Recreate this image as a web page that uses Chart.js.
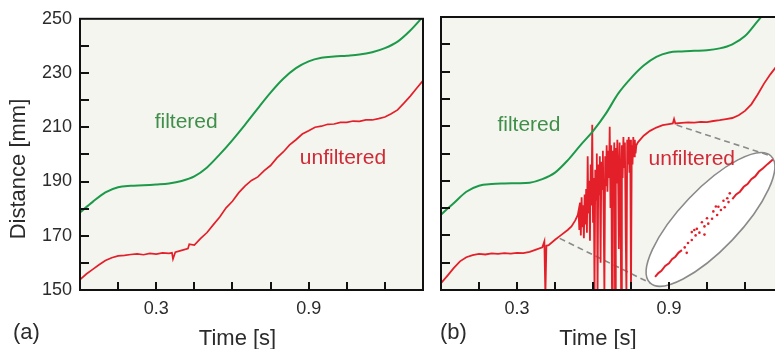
<!DOCTYPE html>
<html>
<head>
<meta charset="utf-8">
<script src="https://cdn.jsdelivr.net/npm/chart.js@4.4.0/dist/chart.umd.min.js"></script>
<style>
  html, body { margin: 0; padding: 0; background: #fff; overflow: hidden; }
  #wrap { position: relative; width: 775px; height: 349px; overflow: hidden; }
  canvas { position: absolute; top: 0; }
  #panelA { left: 0; }
  #panelB { left: 432px; }
</style>
</head>
<body>
<div id="wrap">
  <canvas id="panelA" width="432" height="349"></canvas>
  <canvas id="panelB" width="360" height="349"></canvas>
</div>
<script>
// ---- axis ticks ----
const xTickValues = [0, 0.15, 0.3, 0.45, 0.6, 0.75, 0.9, 1.05, 1.2, 1.35];
const xLabelled = [0.3, 0.9];
const yTickValues = [150, 160, 170, 180, 190, 200, 210, 220, 230, 240, 250];
const yLabelled = [150, 170, 190, 210, 230, 250];

// ---- panel (a) ----
const timeA = [0, 0.05, 0.1, 0.15, 0.2, 0.25, 0.3, 0.35, 0.4, 0.45, 0.5, 0.55, 0.6, 0.65,
  0.7, 0.75, 0.8, 0.85, 0.9, 0.95, 1.0, 1.05, 1.1, 1.15, 1.2, 1.25, 1.3, 1.35];
const filteredA = [178.6, 182.5, 186.0, 187.9, 188.4, 188.6, 188.9, 189.3, 190.2, 191.9, 195.2, 200.0, 205.3, 211.0,
  217.0, 222.8, 227.9, 231.8, 234.3, 235.6, 236.1, 236.4, 236.8, 237.7, 239.2, 241.6, 245.7, 250.8];

const timeRedA = [0, 0.025, 0.05, 0.075, 0.1, 0.125, 0.15, 0.175, 0.2, 0.225,
  0.25, 0.275, 0.3, 0.325, 0.35, 0.362, 0.366, 0.375, 0.4, 0.425,
  0.43, 0.45, 0.475, 0.5, 0.525, 0.55, 0.575, 0.6, 0.625, 0.65,
  0.675, 0.7, 0.725, 0.75, 0.775, 0.8, 0.825, 0.85, 0.875, 0.9,
  0.925, 0.95, 0.975, 1.0, 1.025, 1.05, 1.075, 1.1, 1.125, 1.15,
  1.175, 1.2, 1.225, 1.25, 1.275, 1.3, 1.325, 1.35];
const unfilteredA = [153.8, 155.9, 157.6, 159.3, 160.9, 161.9, 162.6, 162.8, 163.1, 163.3,
  163.0, 163.5, 163.2, 163.7, 163.5, 163.7, 161.4, 163.9, 164.6, 165.3,
  166.9, 166.6, 169.0, 171.2, 174.1, 176.9, 180.3, 182.7, 185.9, 188.4,
  190.4, 191.7, 194.0, 195.9, 198.7, 200.9, 203.5, 205.4, 207.5, 208.7,
  210.0, 210.4, 211.1, 211.2, 211.8, 211.8, 212.3, 212.2, 212.7, 212.7,
  213.2, 213.8, 215.0, 216.4, 218.9, 221.5, 224.4, 227.2];

// ---- panel (b) ----
const filteredB = [177.6, 181.8, 186.0, 188.2, 188.8, 189.0, 189.1, 189.3, 190.6, 193.0, 197.5, 203.0, 208.2, 214.5,
  222.0, 227.6, 232.2, 235.4, 237.0, 237.4, 237.6, 237.8, 238.5, 240.0, 243.0, 248.5, 254.0, 259.5];

const timeRedB1 = [0, 0.025, 0.05, 0.075, 0.1, 0.125, 0.15, 0.175, 0.2, 0.225,
  0.25, 0.275, 0.3, 0.325, 0.35, 0.375, 0.4, 0.408, 0.412, 0.416,
  0.425, 0.45, 0.475, 0.5, 0.515, 0.53, 0.54];
const unfilteredB1 = [152.5, 155.2, 158.0, 160.5, 162.0, 162.8, 163.2, 163.0, 163.4, 163.2,
  163.5, 163.3, 163.6, 163.5, 164.0, 164.8, 165.6, 167.8, 148.0, 166.2,
  166.4, 168.4, 170.2, 172.0, 173.3, 175.5, 177.5];

// the noisy stretch
const timeNoiseB = [0.543, 0.546, 0.549, 0.552, 0.555, 0.558, 0.561, 0.564, 0.567, 0.57,
  0.573, 0.576, 0.579, 0.582, 0.585, 0.588, 0.591, 0.594, 0.597, 0.6,
  0.603, 0.606, 0.609, 0.612, 0.615, 0.618, 0.621, 0.624, 0.627, 0.63,
  0.633, 0.636, 0.639, 0.642, 0.645, 0.648, 0.651, 0.654, 0.657, 0.66,
  0.663, 0.666, 0.669, 0.672, 0.675, 0.678, 0.681, 0.684, 0.687, 0.69,
  0.693, 0.696, 0.699, 0.702, 0.705, 0.708, 0.711, 0.714, 0.717, 0.72,
  0.723, 0.726, 0.729, 0.732, 0.735, 0.738, 0.741, 0.744, 0.747, 0.75,
  0.753, 0.756, 0.759, 0.762, 0.765, 0.768, 0.771];
const noiseB = [179, 172, 182, 170, 184, 173, 181, 169, 185, 174,
  187, 171, 199, 178, 190, 168, 196, 181, 210.5, 175,
  191, 148, 194, 183, 200, 148, 196, 185, 199, 160,
  197, 187, 201, 178, 148, 199, 188, 203, 186, 201,
  191, 209.8, 180, 203, 148, 201, 190, 204, 148, 202,
  189, 205, 193, 165, 204, 194, 148, 203, 191, 206,
  195, 204, 172, 148, 205, 196, 206, 193, 205, 148,
  203, 196, 206, 199, 205, 200, 203];

const timeRedB2 = [0.778, 0.8, 0.825, 0.85, 0.875, 0.9, 0.915, 0.92, 0.925, 0.95,
  0.975, 1.0, 1.025, 1.05, 1.075, 1.1, 1.125, 1.15, 1.175, 1.2,
  1.225, 1.25, 1.275, 1.3, 1.325, 1.35];
const unfilteredB2 = [204.2, 206.5, 208.3, 209.5, 210.4, 210.8, 211.0, 212.6, 211.0, 211.2,
  211.4, 211.3, 211.6, 211.5, 211.9, 212.2, 212.6, 213.0, 214.0, 215.6,
  218.0, 221.6, 225.6, 229.0, 232.0, 235.0];

// magnified inset inside the ellipse
const insetLowTime = [0.845, 0.858, 0.87, 0.885, 0.9, 0.912, 0.925, 0.938, 0.951];
const insetLowDist = [154.8, 156.2, 157.0, 158.8, 159.8, 161.3, 162.2, 163.7, 164.6];
const insetHighTime = [1.15, 1.165, 1.18, 1.195, 1.21, 1.225, 1.24, 1.255, 1.27, 1.29, 1.31];
const insetHighDist = [183.3, 185.0, 186.0, 187.8, 188.8, 190.6, 191.6, 193.4, 194.5, 196.2, 197.8];
const insetDotTime = [0.962, 0.975, 0.99, 1.005, 1.02, 1.04, 1.055, 1.07, 1.09, 1.105, 1.12, 1.135,
  0.99, 1.01, 1.03, 1.05, 1.075, 1.095, 1.115, 1.13, 0.97, 1.04, 1.0, 1.085, 1.14];
const insetDotDist = [165.6, 167.2, 168.3, 170.0, 171.0, 173.3, 174.3, 176.1, 177.5, 179.3, 180.3, 182.2,
  171.2, 172.4, 174.8, 176.3, 178.8, 180.5, 182.7, 183.6, 163.6, 170.3, 172.0, 180.6, 185.4];

// zoom guide: ellipse tips and the dashed connectors
const ellipseTips = [[0.825, 152.6], [1.3025, 199.1]];
const dashLow = [[0.4685, 168.9], [0.825, 152.6]];
const dashHigh = [[0.93, 210.4], [1.3025, 199.1]];

const GREEN = '#1c9a4a';
const RED = '#e3202a';
const FONT = '"Liberation Sans", Arial, Helvetica, sans-serif';

Chart.defaults.font.family = FONT;
Chart.defaults.font.size = 18;
Chart.defaults.color = '#2b2b2b';

function pts(xs, ys) {
  return xs.map((x, i) => ({ x: x, y: ys[i] }));
}
function pairs(list) {
  return list.map(p => ({ x: p[0], y: p[1] }));
}

// background, frame, inward ticks, texts
const frame = {
  id: 'frame',
  beforeDraw(chart) {
    const { ctx, chartArea: a } = chart;
    ctx.save();
    ctx.fillStyle = '#f5f5f0';
    ctx.fillRect(a.left, a.top, a.width, a.height);
    ctx.restore();
  },
  beforeDatasetsDraw(chart, args, opts) {
    if (!opts.ellipse) return;
    const ctx = chart.ctx;
    const sx = chart.scales.x, sy = chart.scales.y;
    const p = opts.ellipse.map(v => [sx.getPixelForValue(v[0]), sy.getPixelForValue(v[1])]);
    const cx = (p[0][0] + p[1][0]) / 2, cy = (p[0][1] + p[1][1]) / 2;
    const r = Math.hypot(p[1][0] - p[0][0], p[1][1] - p[0][1]) / 2;
    const ang = Math.atan2(p[1][1] - p[0][1], p[1][0] - p[0][0]);
    ctx.save();
    ctx.beginPath();
    ctx.ellipse(cx, cy, r, 30, ang, 0, Math.PI * 2);
    ctx.fillStyle = '#ffffff';
    ctx.fill();
    ctx.lineWidth = 1.6;
    ctx.strokeStyle = '#8a8a8a';
    ctx.stroke();
    ctx.restore();
  },
  afterDraw(chart, args, opts) {
    const { ctx, chartArea: a } = chart;
    const sx = chart.scales.x, sy = chart.scales.y;
    ctx.save();
    ctx.strokeStyle = '#111';
    ctx.lineWidth = 2;
    ctx.strokeRect(a.left, a.top, a.width, a.height);
    ctx.beginPath();
    sx.ticks.forEach(t => {
      if (t.value <= sx.min || t.value >= sx.max) return;
      const px = Math.round(sx.getPixelForValue(t.value));
      ctx.moveTo(px, a.bottom);
      ctx.lineTo(px, a.bottom - 8);
    });
    sy.ticks.forEach(t => {
      if (t.value <= sy.min || t.value >= sy.max) return;
      const py = Math.round(sy.getPixelForValue(t.value));
      ctx.moveTo(a.left, py);
      ctx.lineTo(a.left + 9, py);
    });
    ctx.stroke();

    ctx.font = '21px ' + FONT;
    ctx.textAlign = 'center';
    ctx.textBaseline = 'alphabetic';
    opts.notes.forEach(n => {
      ctx.fillStyle = n.color;
      ctx.fillText(n.text, sx.getPixelForValue(n.x), sy.getPixelForValue(n.y));
    });

    ctx.fillStyle = '#2b2b2b';
    ctx.font = '22px ' + FONT;
    ctx.fillText('Time [s]', (a.left + a.right) / 2 - 14, chart.height - 4);
    ctx.textAlign = 'left';
    ctx.fillText(opts.label, opts.labelX, chart.height - 10);
    if (opts.yTitle) {
      ctx.translate(25, 169);
      ctx.rotate(-Math.PI / 2);
      ctx.textAlign = 'center';
      ctx.fillText(opts.yTitle, 0, 0);
    }
    ctx.restore();
  }
};

function scalesFor(yWidth, showYLabels) {
  return {
    x: {
      type: 'linear',
      min: 0,
      max: 1.35,
      grid: { display: false, drawTicks: false },
      border: { display: false },
      afterBuildTicks: s => { s.ticks = xTickValues.map(v => ({ value: v })); },
      afterFit: s => { s.height = 59; },
      ticks: {
        autoSkip: false,
        maxRotation: 0,
        padding: 8,
        color: '#2b2b2b',
        callback: v => xLabelled.some(l => Math.abs(l - v) < 1e-6) ? v.toFixed(1) : ''
      }
    },
    y: {
      type: 'linear',
      min: 150,
      max: 250,
      grid: { display: false, drawTicks: false },
      border: { display: false },
      afterBuildTicks: s => { s.ticks = yTickValues.map(v => ({ value: v })); },
      afterFit: s => { s.width = yWidth; },
      ticks: {
        display: showYLabels,
        autoSkip: false,
        padding: 8,
        color: '#2b2b2b',
        callback: v => yLabelled.includes(v) ? String(v) : ''
      }
    }
  };
}

const common = {
  responsive: false,
  animation: false,
  devicePixelRatio: 1,
  elements: { point: { radius: 0 } },
  layout: { padding: { top: 17, right: 9, left: 0, bottom: 0 } }
};

new Chart(document.getElementById('panelA').getContext('2d'), {
  type: 'line',
  data: {
    datasets: [
      { label: 'filtered', data: pts(timeA, filteredA), borderColor: GREEN, borderWidth: 2, cubicInterpolationMode: 'monotone' },
      { label: 'unfiltered', data: pts(timeRedA, unfilteredA), borderColor: RED, borderWidth: 1.7, tension: 0 }
    ]
  },
  options: Object.assign({}, common, {
    scales: scalesFor(80, true),
    plugins: {
      legend: { display: false },
      tooltip: { enabled: false },
      frame: {
        label: '(a)', labelX: 13, yTitle: 'Distance [mm]',
        notes: [
          { text: 'filtered', x: 0.418, y: 209.6, color: '#3f8f4a' },
          { text: 'unfiltered', x: 1.035, y: 196.5, color: '#cf2a36' }
        ]
      }
    }
  }),
  plugins: [frame]
});

new Chart(document.getElementById('panelB').getContext('2d'), {
  type: 'line',
  data: {
    datasets: [
      { label: 'inset dots', data: pts(insetDotTime, insetDotDist), showLine: false, pointRadius: 1.3,
        pointBackgroundColor: RED, pointBorderWidth: 0 },
      { label: 'inset low', data: pts(insetLowTime, insetLowDist), borderColor: RED, borderWidth: 2 },
      { label: 'inset high', data: pts(insetHighTime, insetHighDist), borderColor: RED, borderWidth: 2 },
      { label: 'filtered', data: pts(timeA, filteredB), borderColor: GREEN, borderWidth: 2, cubicInterpolationMode: 'monotone' },
      { label: 'unfiltered',
        data: pts(timeRedB1, unfilteredB1).concat(pts(timeNoiseB, noiseB), pts(timeRedB2, unfilteredB2)),
        borderColor: RED, borderWidth: 1.8, tension: 0 },
      { label: 'guide low', data: pairs(dashLow), borderColor: '#8a8a8a', borderWidth: 1.6, borderDash: [6, 4] },
      { label: 'guide high', data: pairs(dashHigh), borderColor: '#8a8a8a', borderWidth: 1.6, borderDash: [6, 4] }
    ]
  },
  options: Object.assign({}, common, {
    scales: scalesFor(9, false),
    plugins: {
      legend: { display: false },
      tooltip: { enabled: false },
      frame: {
        label: '(b)', labelX: 8, ellipse: ellipseTips,
        notes: [
          { text: 'filtered', x: 0.347, y: 208.4, color: '#3f8f4a' },
          { text: 'unfiltered', x: 0.99, y: 195.8, color: '#cf2a36' }
        ]
      }
    }
  }),
  plugins: [frame]
});
</script>
</body>
</html>
